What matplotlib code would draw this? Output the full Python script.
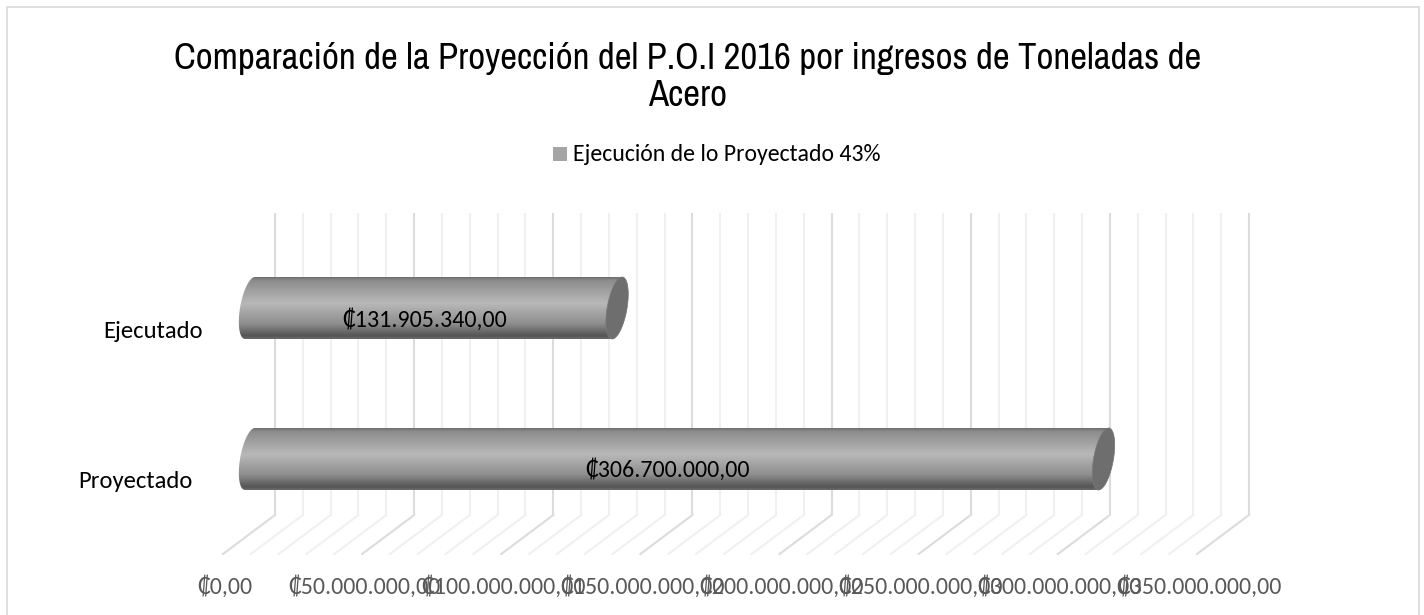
import matplotlib
matplotlib.use('Agg')
import matplotlib.pyplot as plt
from matplotlib.path import Path
from matplotlib.patches import PathPatch, Rectangle
from matplotlib.transforms import ScaledTranslation
from matplotlib.colors import LinearSegmentedColormap
import numpy as np

TITLE = 'Comparación de la Proyección del P.O.I 2016 por ingresos de Toneladas de\nAcero'
LEGEND_LABEL = 'Ejecución de lo Proyectado 43%'
categories = ['Proyectado', 'Ejecutado']
values = [306700000.0, 131905340.0]
value_labels = ['₡306.700.000,00', '₡131.905.340,00']
tick_values = [0, 50000000, 100000000, 150000000, 200000000, 250000000, 300000000, 350000000]
tick_labels = ['₡0,00', '₡50.000.000,00', '₡100.000.000,00', '₡150.000.000,00',
               '₡200.000.000,00', '₡250.000.000,00', '₡300.000.000,00', '₡350.000.000,00']

W, H = 1424, 615
DPI = 100
LABEL_FONT = ['Carlito', 'Lato', 'DejaVu Sans']
TITLE_FONT = ['Archivo Narrow', 'Liberation Sans']

fig = plt.figure(figsize=(W/DPI, H/DPI), dpi=DPI)
fig.patches.append(Rectangle((7/W, -0.01), 1412/W, 1.01-7/H, transform=fig.transFigure,
                             fill=False, edgecolor='#d9d9d9', linewidth=1.2))

# axes = back wall of the 3d box
ax = fig.add_axes([275/W, 1-515/H, (1249-275)/W, (515-213)/H])
ax.set_xlim(0, 350000000)
ax.set_ylim(-0.5, 1.5)
for s in ax.spines.values():
    s.set_visible(False)
ax.patch.set_alpha(0)

px = 350000000/(1249-275)  # money per pixel
py = 2.0/(515-213)


def floor_line(x, col, lw):
    ax.plot([x, x], [-0.5, 1.5], color=col, lw=lw, clip_on=False, zorder=1, solid_capstyle='butt')
    ax.plot([x, x-52*px], [-0.5, -0.5-39*py], color=col, lw=lw, clip_on=False, zorder=1)


for v in range(0, 350000001, 10000000):
    if v % 50000000 == 0:
        floor_line(v, '#dcdcdc', 1.5)
    else:
        floor_line(v, '#f0f0f0', 1.5)

cmap = LinearSegmentedColormap.from_list('cyl', [(0, '#6f6f6f'), (0.05, '#8c8c8c'), (0.42, '#b8b8b8'),
                                                 (0.75, '#8f8f8f'), (0.95, '#555555'), (1, '#6a6a6a')])
grad = np.linspace(0, 1, 200).reshape(-1, 1)

bar_half = 31*py
bar_off = -25*px   # depth shift of the bars from the wall
skew = 5*px        # the ends lean, top is further right
cap_w = 10*px
bar_rows = [459, 308]
label_rows = [469, 319]
label_shift = [-9, -9]


def cylinder(val, yc):
    x0 = bar_off
    x1 = bar_off + val
    t = np.linspace(np.pi/2, 3*np.pi/2, 40)
    left = [(x0 + skew*np.sin(a) + cap_w*np.cos(a), yc + bar_half*np.sin(a)) for a in t]
    right = [(x1 + skew*np.sin(a) - cap_w*np.cos(a), yc + bar_half*np.sin(a)) for a in t[::-1]]
    body = left + right + [left[0]]
    t2 = np.linspace(0, 2*np.pi, 80)
    cap = [(x1 + skew*np.sin(a) + cap_w*np.cos(a), yc + bar_half*np.sin(a)) for a in t2]
    return body, cap


for i in range(len(values)):
    val = values[i]
    yc_data = 1.5 - (bar_rows[i]-213)*py
    body, cap = cylinder(val, yc_data)
    im = ax.imshow(grad, cmap=cmap, aspect='auto', zorder=3, vmin=0, vmax=1,
                   extent=[bar_off-20*px, bar_off+val+20*px, yc_data-bar_half, yc_data+bar_half])
    clip = PathPatch(Path(body), transform=ax.transData, facecolor='none', edgecolor='none')
    ax.add_patch(clip)
    im.set_clip_box(fig.bbox)
    im.set_clip_path(clip)
    ax.add_patch(PathPatch(Path(cap), facecolor='#6e6e6e', edgecolor='#7a7a7a', lw=0.5, zorder=4, clip_on=False))
    ax.text(val/2 + bar_off + label_shift[i]*px, 1.5 - (label_rows[i]-213)*py, value_labels[i],
            ha='center', va='center', fontsize=17.3, color='black', family=LABEL_FONT, zorder=6)

ax.set_xlim(0, 350000000)
ax.set_ylim(-0.5, 1.5)

ax.set_xticks(tick_values)
ax.set_xticklabels(tick_labels, family=LABEL_FONT, fontsize=17.3, color='#595959')
ax.tick_params(axis='x', length=0, pad=43)
shift = ScaledTranslation(-50/DPI, 0, fig.dpi_scale_trans)
for lab in ax.get_xticklabels():
    lab.set_transform(lab.get_transform() + shift)

ax.set_yticks([0, 1])
ax.set_yticklabels([])
ax.tick_params(axis='y', length=0)
fig.text(135/W, 1-481/H, categories[0], ha='center', va='center', fontsize=17.7, family=LABEL_FONT)
fig.text(153/W, 1-331/H, categories[1], ha='center', va='center', fontsize=17.7, family=LABEL_FONT)

fig.text(688/W, 1-77/H, TITLE, ha='center', va='center', fontsize=26.5,
         family=TITLE_FONT, color='black', linespacing=1.15)

fig.patches.append(Rectangle((553/W, 1-161/H), 14/W, 14/H, transform=fig.transFigure,
                             facecolor='#a5a5a5', edgecolor='none'))
fig.text(573/W, 1-155/H, LEGEND_LABEL, ha='left', va='center', fontsize=17.1, family=LABEL_FONT)

fig.savefig('out.png', dpi=DPI)
